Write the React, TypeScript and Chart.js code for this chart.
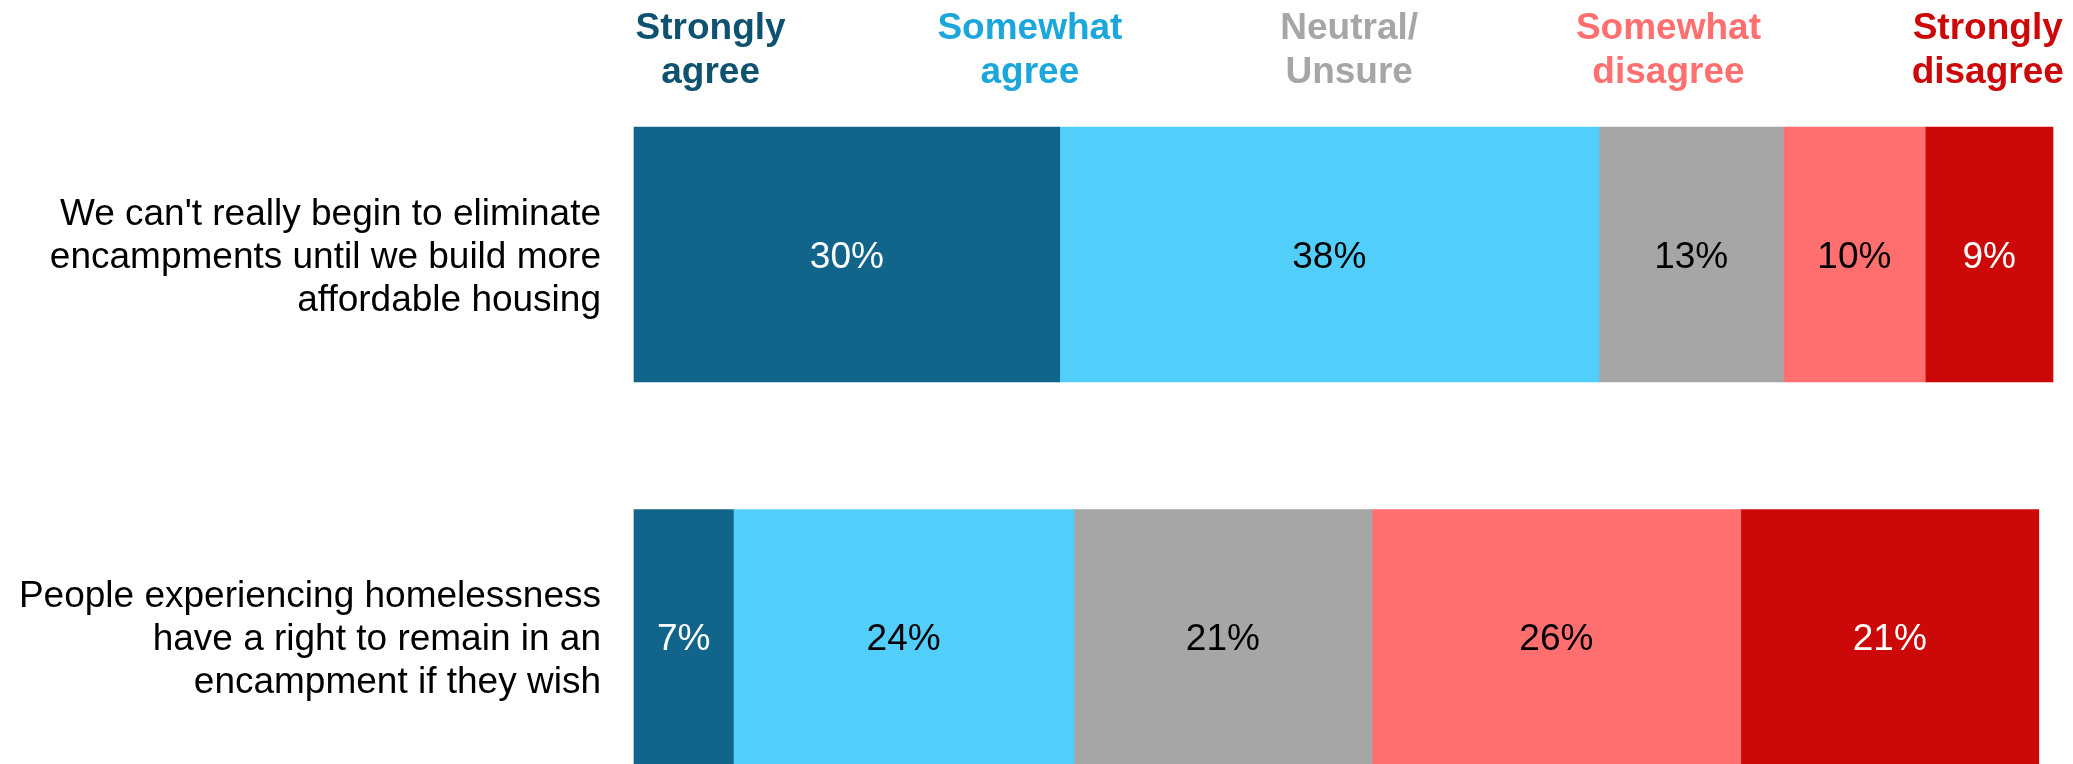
import React, { useEffect, useRef } from "react";
import { Chart, registerables } from "chart.js";

Chart.register(...registerables);

const statements: string[][] = [
  ["We can't really begin to eliminate", "encampments until we build more", "affordable housing"],
  ["People experiencing homelessness", "have a right to remain in an", "encampment if they wish"],
];

const responseLabels: string[][] = [
  ["Strongly", "agree"],
  ["Somewhat", "agree"],
  ["Neutral/", "Unsure"],
  ["Somewhat", "disagree"],
  ["Strongly", "disagree"],
];

const stronglyAgree = [30, 7];
const somewhatAgree = [38, 24];
const neutralUnsure = [13, 21];
const somewhatDisagree = [10, 26];
const stronglyDisagree = [9, 21];

const barColors = ["#12658A", "#52CEFB", "#A6A6A6", "#FF6F6F", "#CC0808"];
const headerColors = ["#0F5270", "#1BA6DC", "#A6A6A6", "#FF6F6F", "#CC0808"];
const valueLabelColors = ["#FFFFFF", "#000000", "#000000", "#000000", "#FFFFFF"];

const FONT = "'Liberation Sans', Arial, Helvetica, sans-serif";

const valueLabelPlugin = {
  id: "valueLabels",
  afterDatasetsDraw(chart: any) {
    const ctx = chart.ctx;
    ctx.save();
    ctx.font = `37px ${FONT}`;
    ctx.textAlign = "center";
    ctx.textBaseline = "middle";
    chart.data.datasets.forEach((ds: any, di: number) => {
      const meta = chart.getDatasetMeta(di);
      meta.data.forEach((el: any, i: number) => {
        const v = ds.data[i];
        if (v == null) return;
        ctx.fillStyle = valueLabelColors[di];
        ctx.fillText(`${Math.round(v)}%`, (el.x + el.base) / 2, el.y + 3);
      });
    });
    ctx.restore();
  },
};

const categoryLabelPlugin = {
  id: "categoryLabels",
  afterDraw(chart: any) {
    const ctx = chart.ctx;
    const area = chart.chartArea;
    const yScale = chart.scales.y;
    const lineH = 43;
    ctx.save();
    ctx.font = `37px ${FONT}`;
    ctx.textAlign = "right";
    ctx.textBaseline = "middle";
    ctx.fillStyle = "#000000";
    statements.forEach((lines, i) => {
      const cy = yScale.getPixelForValue(i) + 3;
      const start = cy - ((lines.length - 1) * lineH) / 2;
      lines.forEach((line, j) => {
        ctx.fillText(line, area.left - 33, start + j * lineH);
      });
    });
    ctx.restore();
  },
};

const headerPlugin = {
  id: "headers",
  afterDraw(chart: any) {
    const ctx = chart.ctx;
    const area = chart.chartArea;
    const meta = chart.getDatasetMeta(0);
    const first = meta.data[0];
    if (!first) return;
    const barTop = first.y - first.height / 2;
    const w = area.right - area.left;
    ctx.save();
    ctx.font = `bold 37px ${FONT}`;
    ctx.textAlign = "center";
    ctx.textBaseline = "alphabetic";
    responseLabels.forEach((lines, i) => {
      const cx = area.left + w * (0.054 + i * 0.225);
      ctx.fillStyle = headerColors[i];
      ctx.fillText(lines[0], cx, barTop - 88);
      ctx.fillText(lines[1], cx, barTop - 44);
    });
    ctx.restore();
  },
};

export default function App() {
  const canvasRef = useRef<HTMLCanvasElement | null>(null);

  useEffect(() => {
    if (!canvasRef.current) return;
    const series = [stronglyAgree, somewhatAgree, neutralUnsure, somewhatDisagree, stronglyDisagree];
    const chart = new Chart(canvasRef.current, {
      type: "bar",
      data: {
        labels: statements.map((s) => s.join(" ")),
        datasets: series.map((data, i) => ({
          label: responseLabels[i].join(" "),
          data,
          backgroundColor: barColors[i],
          borderWidth: 0,
          barThickness: 255,
          clip: false as any,
        })),
      },
      options: {
        indexAxis: "y",
        responsive: true,
        maintainAspectRatio: false,
        animation: false,
        layout: { padding: { top: 254.5, bottom: 127, left: 0, right: 20 } },
        plugins: {
          legend: { display: false },
          tooltip: { enabled: false },
        },
        scales: {
          x: {
            stacked: true,
            min: 0,
            max: 100,
            display: false,
          },
          y: {
            type: "category",
            stacked: true,
            offset: false,
            grid: { display: false, drawTicks: false },
            border: { display: false },
            afterFit(scale: any) {
              scale.width = 634;
            },
            ticks: { display: false },
          },
        },
      },
      plugins: [valueLabelPlugin, categoryLabelPlugin, headerPlugin],
    });
    return () => chart.destroy();
  }, []);

  return (
    <div style={{ position: "absolute", left: 0, top: 0, width: 2073, height: 764, background: "#FFFFFF" }}>
      <canvas ref={canvasRef} />
    </div>
  );
}
